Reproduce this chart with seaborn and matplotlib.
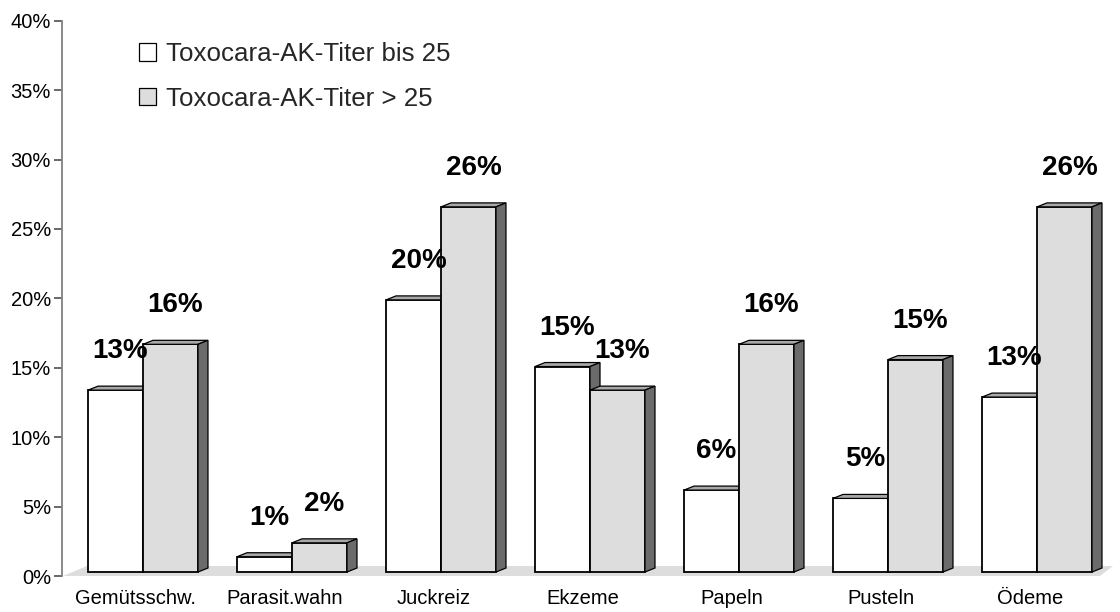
import matplotlib
matplotlib.use("Agg")
import matplotlib.pyplot as plt
from matplotlib.patches import Polygon
from matplotlib.ticker import FuncFormatter
from matplotlib.transforms import ScaledTranslation
import pandas as pd
import seaborn as sns

# --- data -----------------------------------------------------------------
categories = ["Gemütsschw.", "Parasit.wahn", "Juckreiz", "Ekzeme",
              "Papeln", "Pusteln", "Ödeme"]
series_names = ["Toxocara-AK-Titer bis 25", "Toxocara-AK-Titer > 25"]
titer_low = [13.1, 1.1, 19.6, 14.8, 5.9, 5.3, 12.6]      # % of patients
titer_high = [16.4, 2.1, 26.3, 13.1, 16.4, 15.3, 26.3]   # % of patients
y_ticks = [0, 5, 10, 15, 20, 25, 30, 35, 40]

df = pd.DataFrame({
    "Symptom": categories * 2,
    "Gruppe": [series_names[0]] * len(categories) + [series_names[1]] * len(categories),
    "Anteil": titer_low + titer_high,
})

# --- style ----------------------------------------------------------------
sns.set_theme(style="white")
plt.rcParams["font.family"] = ["Liberation Sans", "DejaVu Sans"]

W, H = 1120, 612
DPI = 100
fig = plt.figure(figsize=(W / DPI, H / DPI), dpi=DPI)
ax = fig.add_axes([62 / W, (H - 576) / H, (1113 - 62) / W, (576 - 20.7) / H])

front_colors = ["#ffffff", "#dddddd"]
top_color = "#a8a8a8"
side_color = "#6b6b6b"

sns.barplot(data=df, x="Symptom", y="Anteil", hue="Gruppe",
            order=categories, hue_order=series_names,
            palette=front_colors, saturation=1, width=0.738,
            edgecolor="black", linewidth=1.3, errorbar=None, ax=ax)

xlo, xhi = (62 - 143) / 149, (1113 - 143) / 149
ax.set_xlim(xlo, xhi)
ax.set_ylim(0, 40)

# pixel -> data unit conversion for the pseudo-3D faces
ux = (xhi - xlo) / (1113 - 62)
uy = 40 / (576 - 20.7)
dx, dy = 10 * ux, 4 * uy
lift = ScaledTranslation(0, 4 / DPI, fig.dpi_scale_trans)   # columns stand mid-depth on the floor

# floor plate
floor_px = [(63, 576), (1100, 576), (1113, 566), (87, 566)]
floor = Polygon([((px - 143) / 149, (576 - py) * uy) for px, py in floor_px],
                closed=True, facecolor="#dddddd", edgecolor="none", zorder=0.5)
ax.add_patch(floor)

for level, container in enumerate(ax.containers):
    base_z = 2 + level
    for bar in container:
        x0, w, h = bar.get_x(), bar.get_width(), bar.get_height()
        bar.set_transform(ax.transData + lift)
        bar.set_zorder(base_z)
        top = Polygon([(x0, h), (x0 + w, h), (x0 + w + dx, h + dy), (x0 + dx, h + dy)],
                      closed=True, facecolor=top_color, edgecolor="black",
                      linewidth=0.9, transform=ax.transData + lift, zorder=base_z + 0.1)
        side = Polygon([(x0 + w, 0), (x0 + w + dx, dy), (x0 + w + dx, h + dy), (x0 + w, h)],
                       closed=True, facecolor=side_color, edgecolor="black",
                       linewidth=0.9, transform=ax.transData + lift, zorder=base_z + 0.1)
        ax.add_patch(top)
        ax.add_patch(side)
        ax.annotate(f"{round(h)}%", xy=(x0 + w / 2, h),
                    xytext=(5 * 0.72, 36 * 0.72), textcoords="offset points",
                    ha="center", va="baseline", fontsize=20, fontweight="bold",
                    color="black", zorder=6)

# --- axes -----------------------------------------------------------------
ax.set_yticks(y_ticks)
ax.yaxis.set_major_formatter(FuncFormatter(lambda v, pos: f"{v:.0f}%"))
ax.tick_params(axis="y", direction="out", length=6, width=1.1, color="#404040",
               pad=2, labelsize=14.5, labelcolor="black", left=True)
ax.tick_params(axis="x", length=0, pad=9, labelsize=14.5, labelcolor="black")
for lbl in ax.get_xticklabels():
    lbl.set_transform(lbl.get_transform() + ScaledTranslation(-7 / DPI, 0, fig.dpi_scale_trans))

for s in ("top", "right", "bottom"):
    ax.spines[s].set_visible(False)
ax.spines["left"].set_color("#808080")
ax.spines["left"].set_linewidth(1.3)
ax.set_xlabel("")
ax.set_ylabel("")
ax.grid(False)

sns.move_legend(ax, "upper left", bbox_to_anchor=(139 / W, 1 - 42 / H),
                bbox_transform=fig.transFigure, title=None, frameon=False,
                fontsize=18.6, handlelength=0.66, handleheight=0.66,
                handletextpad=0.39, labelspacing=0.8, borderpad=0,
                borderaxespad=0)
leg = ax.get_legend()
for hdl in leg.legend_handles:
    hdl.set_edgecolor("black")
    hdl.set_linewidth(0.9)

fig.savefig("out.png", dpi=DPI)
